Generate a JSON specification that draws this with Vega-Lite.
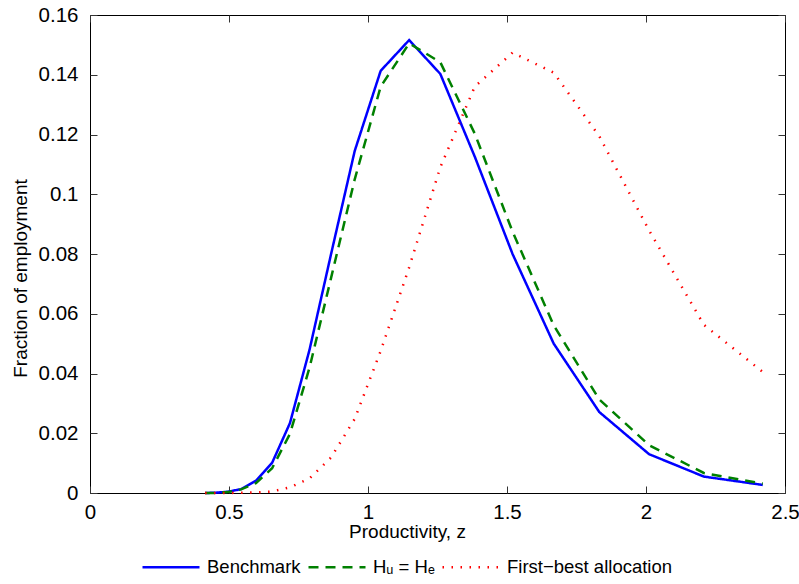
{
  "$schema": "https://vega.github.io/schema/vega-lite/v6.json",
  "width": 695,
  "height": 478,
  "autosize": "none",
  "padding": {"left": 90, "top": 15, "right": 14, "bottom": 91},
  "config": {
    "view": {"stroke": "black", "strokeWidth": 1},
    "font": "Liberation Sans",
    "axis": {"labelFont": "Liberation Sans", "titleFont": "Liberation Sans", "labelColor": "black", "titleColor": "black", "titleFontWeight": "normal", "labelFontSize": 20.5, "titleFontSize": 19, "grid": false, "domain": false, "tickColor": "#333", "tickWidth": 1},
    "legend": {"labelFont": "Liberation Sans", "labelColor": "black"}
  },
  "data": {"values": [
    {"z": 0.414, "v": 0, "s": "Benchmark"},
    {"z": 0.4507, "v": 0.0001, "s": "Benchmark"},
    {"z": 0.4949, "v": 0.0004, "s": "Benchmark"},
    {"z": 0.5434, "v": 0.0013, "s": "Benchmark"},
    {"z": 0.5967, "v": 0.0041, "s": "Benchmark"},
    {"z": 0.6551, "v": 0.0101, "s": "Benchmark"},
    {"z": 0.7193, "v": 0.0234, "s": "Benchmark"},
    {"z": 0.7898, "v": 0.048, "s": "Benchmark"},
    {"z": 0.8672, "v": 0.080, "s": "Benchmark"},
    {"z": 0.9522, "v": 0.1145, "s": "Benchmark"},
    {"z": 1.0455, "v": 0.1413, "s": "Benchmark"},
    {"z": 1.148, "v": 0.1516, "s": "Benchmark"},
    {"z": 1.26, "v": 0.1403, "s": "Benchmark"},
    {"z": 1.384, "v": 0.1126, "s": "Benchmark"},
    {"z": 1.52, "v": 0.080, "s": "Benchmark"},
    {"z": 1.668, "v": 0.050, "s": "Benchmark"},
    {"z": 1.832, "v": 0.0271, "s": "Benchmark"},
    {"z": 2.011, "v": 0.013, "s": "Benchmark"},
    {"z": 2.208, "v": 0.0055, "s": "Benchmark"},
    {"z": 2.42, "v": 0.0027, "s": "Benchmark"},
    {"z": 0.414, "v": 0, "s": "Hᵤ = Hₑ"},
    {"z": 0.4507, "v": 0, "s": "Hᵤ = Hₑ"},
    {"z": 0.4949, "v": 0.0003, "s": "Hᵤ = Hₑ"},
    {"z": 0.5434, "v": 0.0012, "s": "Hᵤ = Hₑ"},
    {"z": 0.5967, "v": 0.0033, "s": "Hᵤ = Hₑ"},
    {"z": 0.6551, "v": 0.0083, "s": "Hᵤ = Hₑ"},
    {"z": 0.7193, "v": 0.0198, "s": "Hᵤ = Hₑ"},
    {"z": 0.7898, "v": 0.042, "s": "Hᵤ = Hₑ"},
    {"z": 0.8672, "v": 0.072, "s": "Hᵤ = Hₑ"},
    {"z": 0.9522, "v": 0.105, "s": "Hᵤ = Hₑ"},
    {"z": 1.0455, "v": 0.136, "s": "Hᵤ = Hₑ"},
    {"z": 1.148, "v": 0.1505, "s": "Hᵤ = Hₑ"},
    {"z": 1.26, "v": 0.1442, "s": "Hᵤ = Hₑ"},
    {"z": 1.384, "v": 0.1203, "s": "Hᵤ = Hₑ"},
    {"z": 1.52, "v": 0.0875, "s": "Hᵤ = Hₑ"},
    {"z": 1.668, "v": 0.0561, "s": "Hᵤ = Hₑ"},
    {"z": 1.832, "v": 0.0313, "s": "Hᵤ = Hₑ"},
    {"z": 2.011, "v": 0.016, "s": "Hᵤ = Hₑ"},
    {"z": 2.208, "v": 0.0067, "s": "Hᵤ = Hₑ"},
    {"z": 2.42, "v": 0.0031, "s": "Hᵤ = Hₑ"},
    {"z": 0.414, "v": 0, "s": "First−best allocation"},
    {"z": 0.4507, "v": 0, "s": "First−best allocation"},
    {"z": 0.4949, "v": 0, "s": "First−best allocation"},
    {"z": 0.5434, "v": 0.0001, "s": "First−best allocation"},
    {"z": 0.5967, "v": 0.0002, "s": "First−best allocation"},
    {"z": 0.6551, "v": 0.0005, "s": "First−best allocation"},
    {"z": 0.7193, "v": 0.0019, "s": "First−best allocation"},
    {"z": 0.7898, "v": 0.0049, "s": "First−best allocation"},
    {"z": 0.8672, "v": 0.0119, "s": "First−best allocation"},
    {"z": 0.9522, "v": 0.0248, "s": "First−best allocation"},
    {"z": 1.0455, "v": 0.0475, "s": "First−best allocation"},
    {"z": 1.148, "v": 0.0755, "s": "First−best allocation"},
    {"z": 1.26, "v": 0.109, "s": "First−best allocation"},
    {"z": 1.384, "v": 0.136, "s": "First−best allocation"},
    {"z": 1.52, "v": 0.1474, "s": "First−best allocation"},
    {"z": 1.668, "v": 0.1407, "s": "First−best allocation"},
    {"z": 1.832, "v": 0.1194, "s": "First−best allocation"},
    {"z": 2.011, "v": 0.0879, "s": "First−best allocation"},
    {"z": 2.208, "v": 0.0563, "s": "First−best allocation"},
    {"z": 2.42, "v": 0.0405, "s": "First−best allocation"}
  ]},
  "layer": [
    {
      "mark": {"type": "line", "strokeCap": "butt", "strokeJoin": "miter"},
      "encoding": {
        "x": {"field": "z", "type": "quantitative", "scale": {"domain": [0, 2.5], "nice": false},
          "axis": {"orient": "bottom", "values": [0, 0.5, 1, 1.5, 2, 2.5], "format": "~g", "tickSize": -7, "labelPadding": 16, "labelFlush": false, "title": "Productivity, z", "titleX": 317, "titleY": 29, "titleBaseline": "top"}},
        "y": {"field": "v", "type": "quantitative", "scale": {"domain": [0, 0.16], "nice": false},
          "axis": {"orient": "left", "values": [0, 0.02, 0.04, 0.06, 0.08, 0.1, 0.12, 0.14, 0.16], "format": "~g", "tickSize": -7, "labelPadding": 19, "labelFlush": false, "title": "Fraction of employment", "titleX": -60, "titleY": 263, "titleAngle": 270, "titleBaseline": "bottom"}},
        "color": {"field": "s", "type": "nominal",
          "scale": {"domain": ["Benchmark", "Hᵤ = Hₑ", "First−best allocation"], "range": ["#0000ff", "#008000", "#ff0000"]},
          "legend": {"title": null, "orient": "none", "direction": "horizontal", "legendX": 51, "legendY": 522, "padding": 0, "symbolType": "stroke", "symbolSize": 3249, "symbolStrokeWidth": 2.5, "labelFontSize": 18.5, "labelOffset": 6, "columnPadding": 2, "labelLimit": 0}},
        "strokeDash": {"field": "s", "type": "nominal",
          "scale": {"domain": ["Benchmark", "Hᵤ = Hₑ", "First−best allocation"], "range": [[1, 0], [10, 7], [1.5, 7.5]]},
          "legend": {"title": null, "orient": "none", "direction": "horizontal", "legendX": 51, "legendY": 522, "padding": 0, "symbolType": "stroke", "symbolSize": 3249, "symbolStrokeWidth": 2.5, "labelFontSize": 18.5, "labelOffset": 6, "columnPadding": 2, "labelLimit": 0}},
        "strokeWidth": {"field": "s", "type": "ordinal",
          "scale": {"domain": ["Benchmark", "Hᵤ = Hₑ", "First−best allocation"], "range": [2.5, 2.5, 1.3]},
          "legend": null}
      }
    },
    {
      "mark": {"type": "line", "opacity": 0},
      "encoding": {
        "x": {"field": "z", "type": "quantitative", "scale": {"domain": [0, 2.5], "nice": false},
          "axis": {"orient": "top", "values": [0, 0.5, 1, 1.5, 2, 2.5], "labels": false, "tickSize": -7, "title": null}},
        "y": {"field": "v", "type": "quantitative", "scale": {"domain": [0, 0.16], "nice": false},
          "axis": {"orient": "right", "values": [0, 0.02, 0.04, 0.06, 0.08, 0.1, 0.12, 0.14, 0.16], "labels": false, "tickSize": -7, "title": null}}
      }
    }
  ],
  "resolve": {"axis": {"x": "independent", "y": "independent"}}
}
